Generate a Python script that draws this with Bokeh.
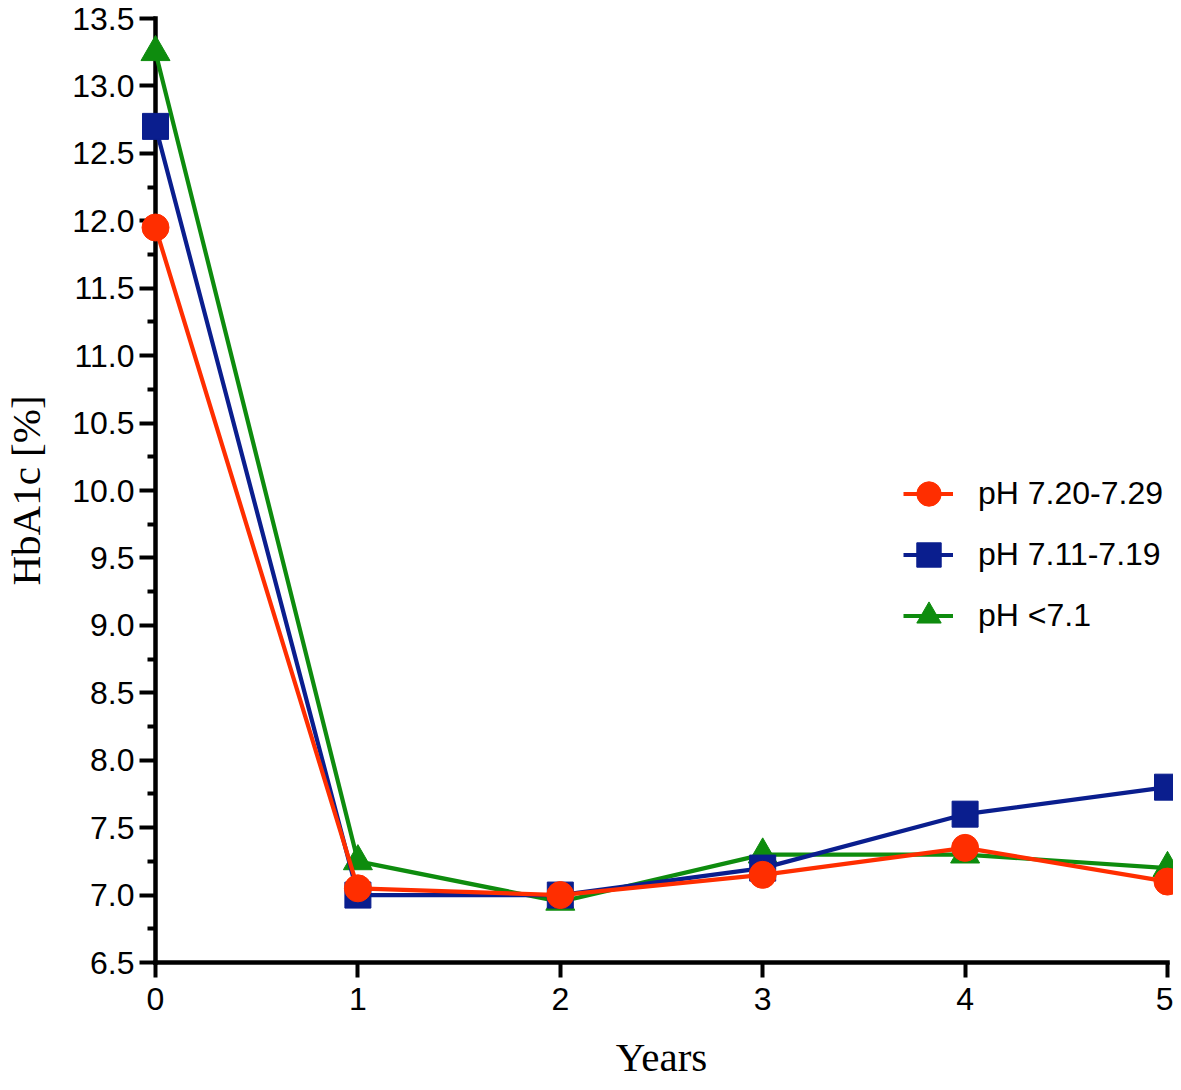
from bokeh.plotting import figure
from bokeh.models import FixedTicker, PrintfTickFormatter, Legend, LegendItem
from bokeh.embed import file_html
from bokeh.resources import INLINE

# ---- data ----
years = [0, 1, 2, 3, 4, 5]
ph_720_729 = [11.95, 7.05, 7.0, 7.15, 7.35, 7.1]
ph_711_719 = [12.7, 7.0, 7.0, 7.2, 7.6, 7.8]
ph_below_71 = [13.25, 7.25, 6.95, 7.3, 7.3, 7.2]
series_labels = ["pH 7.20-7.29", "pH 7.11-7.19", "pH <7.1"]

x_ticks = [0, 1, 2, 3, 4, 5]
y_ticks = [6.5, 7.0, 7.5, 8.0, 8.5, 9.0, 9.5, 10.0, 10.5, 11.0, 11.5, 12.0, 12.5, 13.0, 13.5]
y_minor = [6.75, 7.25, 7.75, 8.25, 8.75, 9.25, 9.75, 10.25, 10.75, 11.25, 11.75, 12.25, 12.75, 13.25]

RED = "#FF2E00"
BLUE = "#0A1E8E"
GREEN = "#0E8C0E"

p = figure(width=1173, height=1082, x_range=(0, 5), y_range=(6.5, 13.5),
           output_backend="svg", toolbar_location=None,
           min_border_left=155, min_border_right=6, min_border_top=18, min_border_bottom=119)
p.grid.visible = False
p.outline_line_color = None
p.background_fill_color = "white"
p.border_fill_color = "white"

series = [
    (ph_below_71, GREEN, "triangle", 29, series_labels[2]),
    (ph_711_719, BLUE, "square", 26, series_labels[1]),
    (ph_720_729, RED, "circle", 27, series_labels[0]),
]
line_r = {}
pts_r = {}
for vals, col, mk, sz, lab in series:
    line_r[lab] = p.line(years, vals, line_color=col, line_width=4.2, level="overlay")
    pts_r[lab] = p.scatter(years, vals, marker=mk, size=sz, fill_color=col, line_color=col,
                           line_width=1, level="overlay")

common = dict(padding=0, margin=0, border_line_color=None, background_fill_alpha=0,
              glyph_height=61, label_height=61, spacing=0,
              label_text_font="Liberation Sans", label_text_font_size="32px",
              label_text_color="black")
legend_lines = Legend(items=[LegendItem(label=l, renderers=[line_r[l]]) for l in series_labels],
                      location=(748, 316), glyph_width=50, label_standoff=25, **common)
legend_marks = Legend(items=[LegendItem(label=" ", renderers=[pts_r[l]]) for l in series_labels],
                      location=(742.5, 316), glyph_width=61, label_standoff=0, **common)
p.add_layout(legend_lines)
p.add_layout(legend_marks)

# axes
for ax in (p.xaxis, p.yaxis):
    ax.axis_line_color = "black"
    ax.axis_line_width = 4.5
    ax.axis_line_cap = "square"
    ax.major_tick_line_color = "black"
    ax.major_tick_line_width = 4
    ax.major_tick_in = 0
    ax.major_label_text_font = "Liberation Sans"
    ax.major_label_text_font_size = "32px"
    ax.major_label_text_color = "black"
    ax.axis_label_text_font = "Liberation Serif"
    ax.axis_label_text_font_size = "41px"
    ax.axis_label_text_font_style = "normal"
    ax.axis_label_text_color = "black"

p.xaxis.ticker = FixedTicker(ticks=x_ticks)
p.xaxis.minor_tick_line_color = None
p.xaxis.major_tick_out = 15
p.xaxis.major_label_standoff = 10
p.xaxis.axis_label = "Years"
p.xaxis.axis_label_standoff = 21

p.yaxis.ticker = FixedTicker(ticks=y_ticks, minor_ticks=y_minor)
p.yaxis.formatter = PrintfTickFormatter(format="%.1f")
p.yaxis.major_tick_out = 16
p.yaxis.minor_tick_out = 8
p.yaxis.minor_tick_in = 0
p.yaxis.minor_tick_line_color = "black"
p.yaxis.minor_tick_line_width = 4
p.yaxis.major_label_standoff = 5
p.yaxis.axis_label = "HbA1c [%]"
p.yaxis.axis_label_standoff = 20

open("out.html", "w").write(file_html(p, INLINE))
